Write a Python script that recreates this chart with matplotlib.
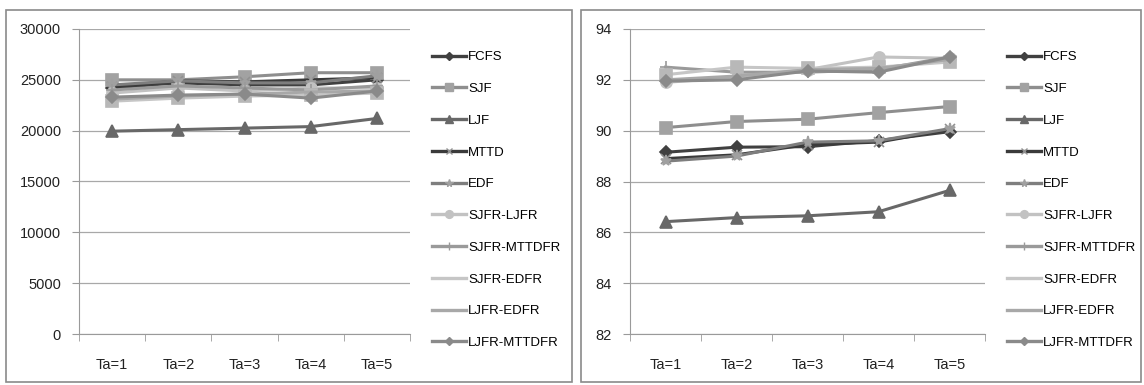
import matplotlib
matplotlib.use("Agg")
import matplotlib.pyplot as plt
from matplotlib.lines import Line2D
from matplotlib.patches import Rectangle

plt.rcParams["font.family"] = ["Liberation Sans", "DejaVu Sans"]

# Data
categories = ["Ta=1", "Ta=2", "Ta=3", "Ta=4", "Ta=5"]
series_names = ["FCFS", "SJF", "LJF", "MTTD", "EDF", "SJFR-LJFR",
                "SJFR-MTTDFR", "SJFR-EDFR", "LJFR-EDFR", "LJFR-MTTDFR"]

left_fcfs = [24200, 24700, 24500, 24500, 25000]
left_sjf = [25000, 25000, 25300, 25700, 25700]
left_ljf = [19950, 20100, 20250, 20400, 21200]
left_mttd = [24300, 24900, 24800, 25000, 25200]
left_edf = [24500, 24900, 24700, 24700, 25400]
left_sjfr_ljfr = [23700, 24200, 23900, 24200, 24200]
left_sjfr_mttdfr = [24000, 24400, 24200, 24000, 24400]
left_sjfr_edfr = [22900, 23200, 23400, 23500, 23700]
left_ljfr_edfr = [23100, 23400, 23600, 23800, 23900]
left_ljfr_mttdfr = [23300, 23500, 23600, 23200, 23900]

right_fcfs = [89.15, 89.35, 89.37, 89.61, 89.96]
right_sjf = [90.12, 90.36, 90.45, 90.71, 90.95]
right_ljf = [86.42, 86.58, 86.65, 86.81, 87.65]
right_mttd = [88.9, 89.05, 89.45, 89.55, 90.05]
right_edf = [88.8, 89.0, 89.55, 89.6, 90.08]
right_sjfr_ljfr = [91.9, 92.1, 92.4, 92.9, 92.85]
right_sjfr_mttdfr = [92.5, 92.3, 92.3, 92.4, 92.9]
right_sjfr_edfr = [92.2, 92.5, 92.45, 92.5, 92.7]
right_ljfr_edfr = [92.0, 92.15, 92.4, 92.45, 92.8]
right_ljfr_mttdfr = [91.95, 92.0, 92.35, 92.3, 92.9]

left_data = [left_fcfs, left_sjf, left_ljf, left_mttd, left_edf, left_sjfr_ljfr,
             left_sjfr_mttdfr, left_sjfr_edfr, left_ljfr_edfr, left_ljfr_mttdfr]
right_data = [right_fcfs, right_sjf, right_ljf, right_mttd, right_edf, right_sjfr_ljfr,
              right_sjfr_mttdfr, right_sjfr_edfr, right_ljfr_edfr, right_ljfr_mttdfr]

# Styles: (line colour, marker, marker colour, marker size)
styles = [
    ("#404040", "D", "#404040", 6),
    ("#8e8e8e", "s", "#a2a2a2", 8),
    ("#686868", "^", "#686868", 8),
    ("#3a3a3a", "x", "#909090", 7),
    ("#7e7e7e", "*", "#a0a0a0", 8),
    ("#c2c2c2", "o", "#c2c2c2", 8),
    ("#9a9a9a", "+", "#9a9a9a", 8),
    ("#c6c6c6", "s", "#b8b8b8", 8),
    ("#a8a8a8", "", "#a8a8a8", 0),
    ("#8a8a8a", "D", "#8a8a8a", 6),
]

W, H = 1144, 385
fig = plt.figure(figsize=(W / 100, H / 100), dpi=100)

# Panel borders
for x0, x1 in [(6, 572), (581, 1141)]:
    fig.patches.append(Rectangle((x0 / W, 3 / H), (x1 - x0) / W, (H - 13) / H,
                                 transform=fig.transFigure, fill=False,
                                 edgecolor="#8a8a8a", linewidth=1.2))


def draw_panel(ax_px, data, ylim, yticks, legend_xy):
    left, right, top, bottom = ax_px
    ax = fig.add_axes([left / W, (H - bottom) / H, (right - left) / W, (bottom - top) / H])
    x = list(range(1, len(categories) + 1))
    handles = []
    for name, vals, (lc, mk, mc, ms) in zip(series_names, data, styles):
        ax.plot(x, vals, color=lc, linewidth=2.2, marker=mk if mk else None,
                markersize=ms, markerfacecolor=mc, markeredgecolor=mc,
                markeredgewidth=1.2)
        handles.append(Line2D([], [], color=lc, linewidth=2.4,
                              marker=mk if (mk and name != "SJFR-EDFR") else None,
                              markersize=ms * 0.7, markerfacecolor=mc,
                              markeredgecolor=mc))
    ax.set_xlim(0.5, len(categories) + 0.5)
    ax.set_ylim(*ylim)
    ax.set_yticks(yticks)
    ax.set_xticks(x)
    ax.set_xticklabels(categories)
    ax.set_xticks([i + 0.5 for i in range(0, len(categories) + 1)], minor=True)
    ax.tick_params(axis="x", which="major", length=0, pad=17, labelsize=10.5, colors="#222222")
    ax.tick_params(axis="x", which="minor", length=5, color="#9a9a9a", direction="out")
    ax.tick_params(axis="y", length=5, color="#9a9a9a", labelsize=10.5, colors="#222222", pad=8)
    ax.grid(axis="y", color="#a8a8a8", linewidth=0.9)
    ax.set_axisbelow(True)
    for s in ["top", "right"]:
        ax.spines[s].set_visible(False)
    for s in ["left", "bottom"]:
        ax.spines[s].set_color("#9a9a9a")
    fig.legend(handles, series_names, loc="upper left",
               bbox_to_anchor=(legend_xy[0] / W, (H - legend_xy[1]) / H),
               frameon=False, fontsize=9.5, handlelength=2.6, handletextpad=0.15,
               labelspacing=1.48, borderaxespad=0, borderpad=0)
    return ax


draw_panel((79, 410, 29, 334), left_data, (0, 30000),
           [0, 5000, 10000, 15000, 20000, 25000, 30000], (432, 51))
draw_panel((630, 985, 29, 334), right_data, (82, 94),
           [82, 84, 86, 88, 90, 92, 94], (1007, 51))

fig.savefig("out.png", dpi=100)
